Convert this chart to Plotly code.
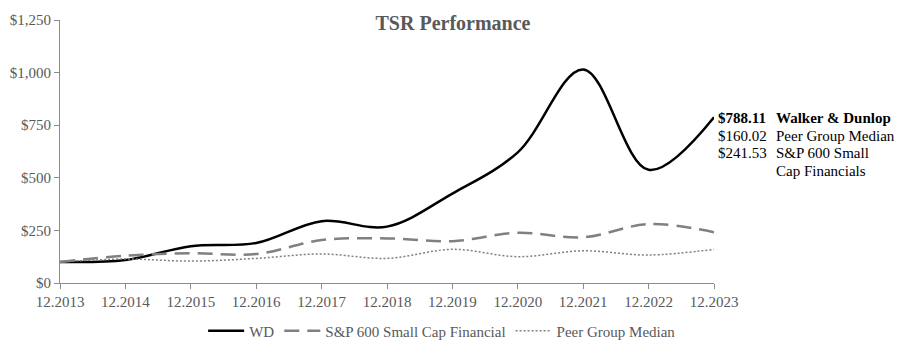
import plotly.graph_objects as go

years = ["12.2013", "12.2014", "12.2015", "12.2016", "12.2017", "12.2018",
         "12.2019", "12.2020", "12.2021", "12.2022", "12.2023"]
wd = [100, 109, 175, 190, 294, 268, 425, 621, 1015, 538, 788.11]
sp600 = [100, 130, 141, 138, 204, 212, 199, 239, 217, 280, 241.53]
peer = [100, 114, 104, 117, 138, 117, 160, 125, 153, 133, 160.02]
yticks = [0, 250, 500, 750, 1000, 1250]
ytick_labels = ["$0", "$250", "$500", "$750", "$1,000", "$1,250"]

x = list(range(len(years)))
FONT = "Liberation Serif, Times New Roman, serif"
GRAY = "#595959"

fig = go.Figure()
fig.add_trace(go.Scatter(x=x, y=wd, name="WD", mode="lines",
                         line=dict(color="black", width=2.5, shape="spline", smoothing=1)))
fig.add_trace(go.Scatter(x=x, y=sp600, name="S&P 600 Small Cap Financial", mode="lines",
                         line=dict(color="#808080", width=2.5, dash="15px,8px", shape="spline", smoothing=1)))
fig.add_trace(go.Scatter(x=x, y=peer, name="Peer Group Median", mode="lines",
                         line=dict(color="#808080", width=1.5, dash="2px,2px", shape="spline", smoothing=1)))

fig.update_layout(
    width=906, height=351,
    margin=dict(l=60, r=192, t=20, b=68, autoexpand=False),
    paper_bgcolor="white", plot_bgcolor="white",
    font=dict(family=FONT, size=15, color=GRAY),
    title=dict(text="<b>TSR Performance</b>", x=0.5, xref="container", xanchor="center",
               y=1 - 23 / 351, yref="container", yanchor="middle",
               font=dict(family=FONT, size=20, color=GRAY)),
    showlegend=True,
    legend=dict(orientation="h", xref="container", x=0.488, xanchor="center",
                yref="container", y=1 - 331 / 351, yanchor="middle",
                font=dict(family=FONT, size=15, color=GRAY), itemwidth=36,
                tracegroupgap=0),
    xaxis=dict(range=[0, 10], tickvals=x, ticktext=years, showgrid=False, zeroline=False,
               showline=True, linecolor="#8c8c8c", linewidth=1,
               ticks="outside", ticklen=5, tickcolor="#8c8c8c",
               tickfont=dict(family=FONT, size=15, color=GRAY)),
    yaxis=dict(range=[0, 1250], tickvals=yticks, ticktext=ytick_labels,
               showgrid=False, zeroline=False,
               showline=True, linecolor="#8c8c8c", linewidth=1,
               ticks="outside", ticklen=5, tickcolor="#8c8c8c",
               tickfont=dict(family=FONT, size=15, color=GRAY)),
)

def px_to_val(py):
    return (283 - py) * 1250 / 263.0

labels = [
    ("<b>$788.11</b>", "<b>Walker & Dunlop</b>", 118),
    ("$160.02", "Peer Group Median", 135.5),
    ("$241.53", "S&P 600 Small", 153),
    ("", "Cap Financials", 171),
]
for val, lab, py in labels:
    if val:
        fig.add_annotation(x=10, y=px_to_val(py), xref="x", yref="y", text=val,
                           showarrow=False, xanchor="left", yanchor="middle", xshift=2,
                           font=dict(family=FONT, size=15, color="black"))
    fig.add_annotation(x=10, y=px_to_val(py), xref="x", yref="y", text=lab,
                       showarrow=False, xanchor="left", yanchor="middle", xshift=60,
                       font=dict(family=FONT, size=15, color="black"))

fig.write_html("out.html")
